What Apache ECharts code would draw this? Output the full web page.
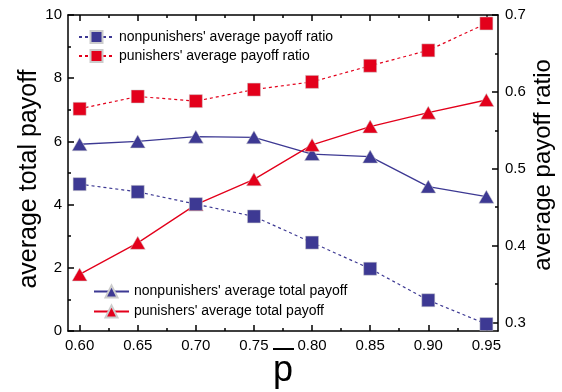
<!DOCTYPE html>
<html><head><meta charset="utf-8">
<script src="https://cdn.jsdelivr.net/npm/echarts@6/dist/echarts.min.js"></script>
<style>html,body{margin:0;padding:0;background:#fff}#c{width:562px;height:392px}</style>
</head><body><div id="c"></div>
<script>
const pValues = [0.60, 0.65, 0.70, 0.75, 0.80, 0.85, 0.90, 0.95];
const nonpunRatio = [0.480, 0.470, 0.454, 0.438, 0.404, 0.370, 0.329, 0.298];
const punRatio = [0.578, 0.594, 0.588, 0.603, 0.613, 0.634, 0.654, 0.689];
const nonpunTotal = [5.91, 6.00, 6.15, 6.13, 5.60, 5.52, 4.57, 4.25];
const punTotal = [1.79, 2.79, 4.00, 4.80, 5.89, 6.47, 6.91, 7.31];
const xTickLabels = [0.60, 0.65, 0.70, 0.75, 0.80, 0.85, 0.90, 0.95];
const xMinorTicks = [0.625, 0.675, 0.725, 0.775, 0.825, 0.875, 0.925];
const rightTicks = [0.3, 0.4, 0.5, 0.6, 0.7];
const rightMinorTicks = [0.35, 0.45, 0.55, 0.65];

const BLUE = '#3d3993';
const RED = '#e3001b';
const FONT = 'Liberation Sans, Arial, sans-serif';
const pair = (ys) => pValues.map((x, i) => [x, ys[i]]);

const chart = echarts.init(document.getElementById('c'), null, {renderer: 'canvas'});
const axLine = {show: true, lineStyle: {color: '#000', width: 1.5}};
const xBase = {type: 'value', min: 0.59, max: 0.96, splitLine: {show: false}};
const legendText = {fontFamily: FONT, fontSize: 14, color: '#000', lineHeight: 15};
chart.setOption({
  animation: false,
  backgroundColor: '#fff',
  grid: {left: 68, right: 64, top: 15, bottom: 61, containLabel: false, outerBoundsMode: 'none'},
  legend: [
    {data: ["nonpunishers' average payoff ratio", "punishers' average payoff ratio"],
     orient: 'vertical', left: 78, top: 29.5, itemWidth: 35, itemHeight: 15, itemGap: 4,
     padding: 0, textStyle: legendText},
    {data: ["nonpunishers' average total payoff", "punishers' average total payoff"],
     orient: 'vertical', left: 93, top: 284, itemWidth: 35, itemHeight: 15, itemGap: 5,
     padding: 0, textStyle: legendText}
  ],
  xAxis: [
    Object.assign({}, xBase, {position: 'bottom', axisLine: axLine,
      axisTick: {inside: true, length: 6, customValues: xTickLabels, lineStyle: {color: '#000', width: 1.5}},
      axisLabel: {customValues: xTickLabels, margin: 7, fontFamily: FONT, fontSize: 15, color: '#000',
        formatter: v => v.toFixed(2)},
      name: 'p', nameLocation: 'middle', nameGap: 22, nameMoveOverlap: false,
      nameTextStyle: {fontFamily: FONT, fontSize: 36, color: '#000'}}),
    Object.assign({}, xBase, {position: 'bottom', axisLine: {show: false},
      axisTick: {inside: true, length: 3, customValues: xMinorTicks, lineStyle: {color: '#000', width: 1.5}},
      axisLabel: {show: false}}),
    Object.assign({}, xBase, {position: 'top', axisLine: axLine,
      axisTick: {inside: true, length: 6, customValues: xTickLabels, lineStyle: {color: '#000', width: 1.5}},
      axisLabel: {show: false}}),
    Object.assign({}, xBase, {position: 'top', axisLine: {show: false},
      axisTick: {inside: true, length: 3, customValues: xMinorTicks, lineStyle: {color: '#000', width: 1.5}},
      axisLabel: {show: false}})
  ],
  yAxis: [
    {type: 'value', position: 'left', min: 0, max: 10, interval: 2, splitLine: {show: false},
     axisLine: axLine,
     axisTick: {inside: true, length: 6, lineStyle: {color: '#000', width: 1.5}},
     minorTick: {show: true, splitNumber: 2, length: 3, lineStyle: {color: '#000', width: 1.5}},
     axisLabel: {margin: 6, fontFamily: FONT, fontSize: 15, color: '#000'},
     name: 'average total payoff', nameLocation: 'middle', nameGap: 26, nameRotate: 90, nameMoveOverlap: false,
     nameTextStyle: {fontFamily: FONT, fontSize: 25, color: '#000', padding: [0, 12, 0, 0]}},
    {type: 'value', position: 'right', min: 0.289, max: 0.7, splitLine: {show: false},
     axisLine: axLine,
     axisTick: {inside: true, length: 6, customValues: rightTicks, lineStyle: {color: '#000', width: 1.5}},
     axisLabel: {customValues: rightTicks, margin: 7, fontFamily: FONT, fontSize: 15, color: '#000',
       formatter: v => String(Math.round(v * 10) / 10)},
     name: 'average payoff ratio', nameLocation: 'middle', nameGap: 33, nameRotate: 90, nameMoveOverlap: false,
     nameTextStyle: {fontFamily: FONT, fontSize: 24, color: '#000', padding: [0, 0, 0, 16]}},
    {type: 'value', position: 'right', min: 0.289, max: 0.7, splitLine: {show: false},
     axisLine: {show: false},
     axisTick: {inside: true, length: 3, customValues: rightMinorTicks, lineStyle: {color: '#000', width: 1.5}},
     axisLabel: {show: false}}
  ],
  series: [
    {name: "nonpunishers' average total payoff", type: 'line', xAxisIndex: 0, yAxisIndex: 0,
     data: pair(nonpunTotal), symbol: 'triangle', symbolSize: [15, 13],
     itemStyle: {color: BLUE, borderColor: '#ccc', borderWidth: 0.5},
     lineStyle: {color: BLUE, width: 1.3}},
    {name: "punishers' average total payoff", type: 'line', xAxisIndex: 0, yAxisIndex: 0,
     data: pair(punTotal), symbol: 'triangle', symbolSize: [15, 13],
     itemStyle: {color: RED, borderColor: '#ccc', borderWidth: 0.5},
     lineStyle: {color: RED, width: 1.3}},
    {name: "nonpunishers' average payoff ratio", type: 'line', xAxisIndex: 0, yAxisIndex: 1,
     data: pair(nonpunRatio), symbol: 'rect', symbolSize: 13,
     itemStyle: {color: BLUE, borderColor: '#ccc', borderWidth: 0.5},
     lineStyle: {color: BLUE, width: 1.2, type: [3, 3]}},
    {name: "punishers' average payoff ratio", type: 'line', xAxisIndex: 0, yAxisIndex: 1,
     data: pair(punRatio), symbol: 'rect', symbolSize: 13,
     itemStyle: {color: RED, borderColor: '#ccc', borderWidth: 0.5},
     lineStyle: {color: RED, width: 1.2, type: [3, 3]}}
  ],
  graphic: [
    {type: 'line', shape: {x1: 273, y1: 349, x2: 294, y2: 349}, style: {stroke: '#000', lineWidth: 2}}
  ]
});
</script></body></html>
